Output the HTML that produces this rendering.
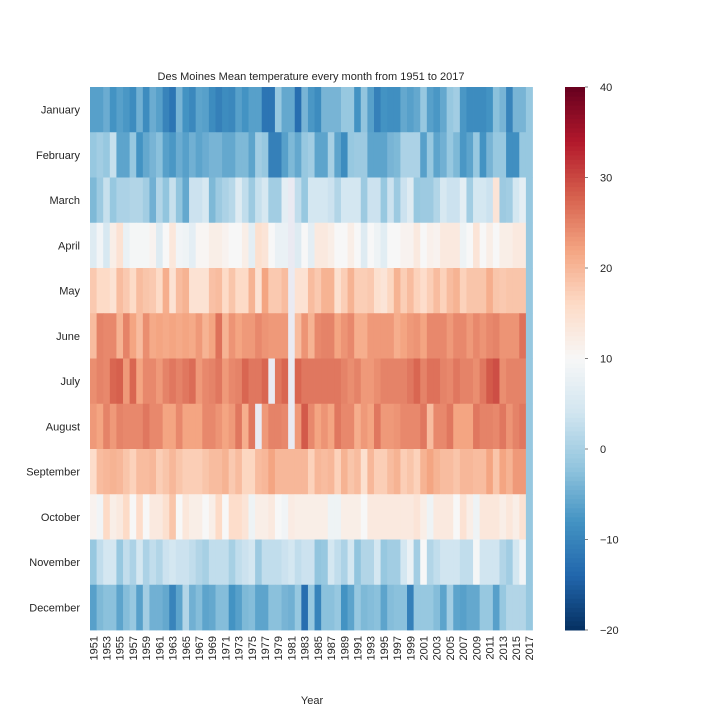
<!DOCTYPE html>
<html><head><meta charset="utf-8"><style>
body{margin:0;background:#fff;}
svg text{font-family:"Liberation Sans","DejaVu Sans",sans-serif;fill:#262626;}
</style></head><body>
<svg id="chart" width="720" height="720" xmlns="http://www.w3.org/2000/svg">
<text x="311" y="80" font-size="11" text-anchor="middle">Des Moines Mean temperature every month from 1951 to 2017</text>
<text x="312" y="704" font-size="11" text-anchor="middle">Year</text>
<g id="cells"></g>
<g id="ylabels"></g>
<g id="xlabels"></g>
<g id="cbar"></g>
</svg>
<script>
const months=["January","February","March","April","May","June","July","August","September","October","November","December"];
const startYear=1951;
const cbTicks=[40,30,20,10,0,-10,-20];
const jan=[-6.5,-6.5,-5,-8,-6.5,-7.5,-9,-4.5,-9,-5,-6.5,-10,-12,-4,-8,-9.5,-6,-6.5,-9,-10.5,-9,-9.5,-6.5,-8,-6.5,-6.5,-12,-12,-1.5,-5.5,-5.5,-13,-4,-7.5,-9,-4,-4,-4,-1.5,-1.5,-8,-2,-6.5,-10.5,-8,-8.5,-8.5,-5.5,-6.5,-5.5,-1.5,-6.5,-7.5,-5.5,-1.5,-0.5,-7.5,-9,-9,-9,-8,-2.5,-4,-10,-4,-4,-1.5];
const feb=[-1.5,-0.5,-1.5,3,-6,-6,-1.5,-8,-5.5,-4,-2.5,-6.5,-7.5,-5,-6.5,-4.5,-6,-5,-4,-4,-5.5,-5.5,-3.5,-3.5,-6,-0.5,-1.5,-10.5,-10.5,-6.5,-3.5,-5.5,-1.5,-0.5,-6,-6,0,-6,-9,-1.5,-1,-1,-6,-6,-6,-4,-3.5,0.5,0.5,0.5,-6.5,-1.5,-6,-4.5,-1.5,-3.5,-7.5,-6,-1.5,-8,-4,-1.5,-1.5,-8.5,-8.5,-1.5,-1.5];
const mar=[-3.5,-1,3,-1.5,0.5,0.5,1,1,-0.5,-4.5,1,-2,3,-2,-5.5,3.5,3.5,5,-3.5,-1,0.5,1.5,6,2.5,-1,3,5,-0.5,-0.5,7,null,2.5,-1.5,4.5,4.5,4.5,3.5,1,4.5,4.5,4.5,-1,3.5,3.5,-1.5,3.5,-1,3.5,6,-1.5,-1,-1,1,5,3.5,3.5,7,-0.5,4.5,4.5,3.5,14,-1,-0.5,4.5,7,-1.5];
const apr=[6,9,5,12,14.5,8,9.5,9.5,9.5,11,6,10,13.5,9,8.5,7,10.5,10.5,12,12,11,10,10,12,7,15,14,10,8,8,null,6,10,7,13,13,12,10,10,12,10,6,10,8.5,6.5,10,10,11,11,13,10,11.5,11,13,13,13,8.5,10,14,10,12,10,12,12,13,13,-1.5];
const may=[18,16,16,14.5,19.5,18,16,19.5,18.5,18,16,21,14.5,19.5,20.5,14.5,14.5,14.5,19,19.5,16,18.5,16,16,20.5,14.5,22,18,18,19.5,null,14.5,14.5,19.5,18,20.5,20.5,15,17.5,20.5,17.5,17.5,18,15,14,16.5,20.5,17.5,19.5,17,15.5,17.5,19.5,17,19.5,20.5,17,18.5,18.5,18.5,21,18.5,18,18.5,18.5,18.5,-1.5];
const jun=[19.5,25,24.5,24.5,20.5,25,22,19.5,24,21.5,22,21.5,22,21.5,22,21.5,23,20.5,22,26.5,20.5,23.5,22,23,23,24.5,23.5,23,23,23,null,19.5,23.5,20.5,24.5,25,25,22,23.5,24.5,21,21,23,23,23,23,21,22,23,23.5,22,24.5,24.5,24.5,23,24.5,24.5,23,24.5,23.5,24.5,25,23.5,23.5,23.5,26.5,-1.5];
const jul=[24,25,24.5,27.5,28,23,27.5,22,24.5,24.5,23,25,26,25,26,27,23,24.5,25,26,23,24.5,25,27.5,26,26,27.5,null,26,27.5,null,27.5,26,26,26,26,26,26,25,24,25,23,23,24,25,25,25,25,26,27.5,25,26.5,26.5,25,24.5,26,25,25,24,26,28.5,29.5,24,25,25,25,-1.5];
const aug=[23,22,25,23,25,24.5,24.5,24.5,26,24.5,24.5,22,22,24.5,22,22,22,24.5,24.5,23.5,22,23,26,21,26,null,23,25,25,24.5,null,23,28.5,24.5,22,23.5,22,26,24.5,24.5,21,23,22,26,23,23,23.5,24.5,24.5,24.5,26,19.5,24.5,24.5,26,22,22,22,26,25,25,24.5,26,23.5,25,26,-1.5];
const sep=[15.5,19.5,20,20.5,20,18.5,17,19.5,19.5,20,17.5,18.5,20,18.5,17.5,17.5,17.5,18.5,19.5,19.5,20.5,18,19.5,16.5,16.5,19.5,20,22,20,20,20,20,20,17,20,19.5,20,17,20.5,18.5,19.5,15,20,17.5,17.5,19.5,20.5,17.5,18.5,17,20.5,22,20.5,19.5,19.5,18.5,20,20,19.5,19.5,22,18.5,22,20.5,23,23,-1.5];
const oct=[11,9,16,12,13,16,10,15.5,10,13,13,15,18.5,10,13.5,12,12,10,12,16,10,15.5,15.5,14,8.5,12,12,13,10,9,12.5,12,12,12,12,12,8.5,8.5,12,12,12,10,13,13,13,13,13,13,13,14,12,8.5,13,13,13,10,14.5,12,8.5,13.5,13.5,13.5,12,13.5,12,14.5,-1.5];
const nov=[-1.5,2.5,4.5,4.5,-1.5,2.5,0.5,4.5,0.5,2.5,1,3.5,4.5,3.5,3.5,2.5,1,0,2.5,2.5,2.5,0,2.5,3.5,4.5,-1,2.5,2.5,2.5,3.5,4.5,2.5,3.5,3.5,-2,-1.5,4.5,2.5,0.5,4.5,-2,1,1,4.5,-1.5,-0.5,-0.5,4.5,8,-0.5,10,1,2.5,4,4,4,2.5,2.5,9.5,4,4,4,1,-0.5,4.5,9,-1.5];
const dec=[-6.5,-3.5,-2.5,-2.5,-6,-3,-1.5,-6.5,-0.5,-4.5,-4.5,-5.5,-10,-6,1,-4.5,-3,-6,-5.5,-3,-3,-8,-6.5,-3.5,-3,-6,-6,-2.5,-2.5,-4,-4.5,-1.5,-13,-1.5,-10,-2.5,-2.5,-1.5,-8,-6,-1.5,-3.5,-3,-2.5,-6,-3,-2.5,-2.5,-10.5,-1.5,-1.5,-1.5,-3,-6,-0.5,-6,-6.5,-5.5,-5.5,-1.5,-1.5,-6.5,-1.5,1,1,1,-1.5];
const rows=[jan,feb,mar,apr,may,jun,jul,aug,sep,oct,nov,dec];

const NS="http://www.w3.org/2000/svg";
const X0=90,X1=532.5,Y0=87,Y1=630,VMIN=-20,VMAX=40;
const nYears=jan.length;
const cw=(X1-X0)/nYears, rh=(Y1-Y0)/months.length;
const xPos=i=>X0+i*cw;
const yPos=j=>Y0+j*rh;
const anchors=["#053061","#2166ac","#4393c3","#92c5de","#d1e5f0","#f7f7f7","#fddbc7","#f4a582","#d6604d","#b2182b","#67001f"];
function hex(h){return [1,3,5].map(k=>parseInt(h.substr(k,2),16));}
function cmap(v){
  let t=(v-VMIN)/(VMAX-VMIN);t=Math.max(0,Math.min(1,t))*(anchors.length-1);
  const i=Math.min(Math.floor(t),anchors.length-2),f=t-i;
  const a=hex(anchors[i]),b=hex(anchors[i+1]);
  return "rgb("+a.map((c,k)=>Math.round(c+(b[k]-c)*f)).join(",")+")";
}
function mk(tag,attrs,parent){const e=document.createElementNS(NS,tag);for(const k in attrs)e.setAttribute(k,attrs[k]);parent.appendChild(e);return e;}

const cells=document.getElementById("cells");
rows.forEach((row,j)=>{
  row.forEach((v,i)=>{
    const r=mk("rect",{x:xPos(i),y:yPos(j),width:cw+0.4,height:rh+0.4,fill:v===null?"#eaeaf2":cmap(v)},cells);
    
    
  });
});
const yl=document.getElementById("ylabels");
months.forEach((m,j)=>{
  const t=mk("text",{x:80,y:yPos(j)+rh/2+4,"font-size":"11","text-anchor":"end"},yl);
  t.textContent=m;
  
  
});
const xl=document.getElementById("xlabels");
for(let i=0;i<nYears;i+=2){
  const cx=xPos(i)+cw/2+4, cy=Y1+6;
  const t=mk("text",{x:cx,y:cy,"font-size":"11","text-anchor":"end",transform:"rotate(-90 "+cx+" "+cy+")"},xl);
  t.textContent=String(startYear+i);
  
  
}
const cb=document.getElementById("cbar");
const CBX=565,CBW=20,N=120;
const cbY=v=>Y1-(v-VMIN)/(VMAX-VMIN)*(Y1-Y0);
for(let k=0;k<N;k++){
  const v0=VMIN+(VMAX-VMIN)*k/N, v1=VMIN+(VMAX-VMIN)*(k+1)/N;
  const r=mk("rect",{x:CBX,y:cbY(v1),width:CBW,height:cbY(v0)-cbY(v1)+0.5,fill:cmap((v0+v1)/2)},cb);
  
  
}
cbTicks.forEach(v=>{
  const y=cbY(v);
  const l=mk("line",{x1:CBX+CBW,x2:CBX+CBW+3,y1:y,y2:y,stroke:"#262626","stroke-width":"0.6"},cb);
  
  
  const t=mk("text",{x:CBX+CBW+15,y:y+4,"font-size":"11"},cb);
  t.textContent=(v<0?"\u2212"+(-v):String(v));
  
  
});
</script>
</body></html>
